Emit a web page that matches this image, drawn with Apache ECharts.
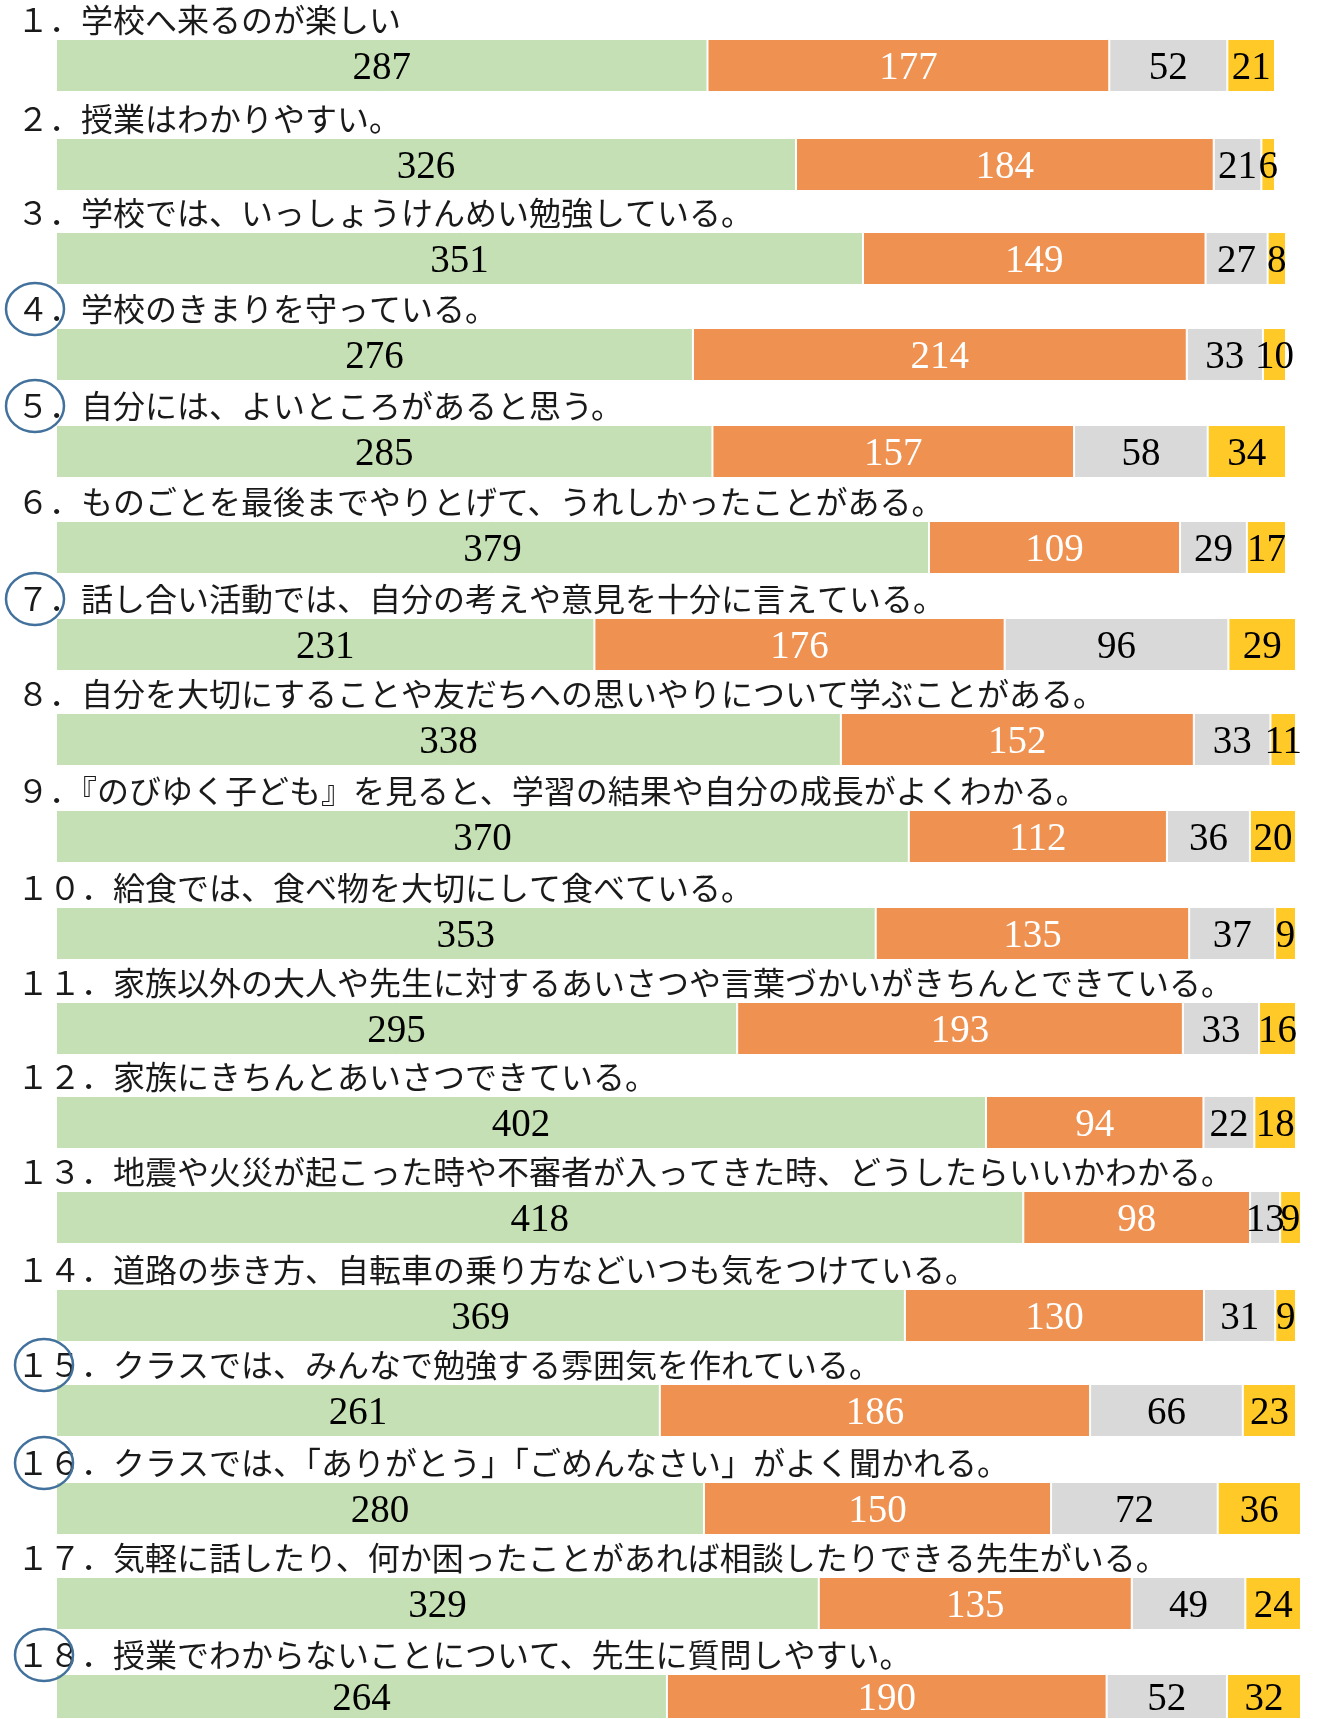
<!DOCTYPE html>
<html>
<head>
<meta charset="utf-8">
<script src="https://cdn.jsdelivr.net/npm/echarts@6/dist/echarts.min.js"></script>
<style>
  html, body { margin: 0; padding: 0; background: #fff; }
  #chart { width: 1320px; height: 1719px; }
</style>
</head>
<body>
<div id="chart"></div>
<script>
const questions = [
  "１．学校へ来るのが楽しい",
  "２．授業はわかりやすい。",
  "３．学校では、いっしょうけんめい勉強している。",
  "４．学校のきまりを守っている。",
  "５．自分には、よいところがあると思う。",
  "６．ものごとを最後までやりとげて、うれしかったことがある。",
  "７．話し合い活動では、自分の考えや意見を十分に言えている。",
  "８．自分を大切にすることや友だちへの思いやりについて学ぶことがある。",
  "９．『のびゆく子ども』を見ると、学習の結果や自分の成長がよくわかる。",
  "１０．給食では、食べ物を大切にして食べている。",
  "１１．家族以外の大人や先生に対するあいさつや言葉づかいがきちんとできている。",
  "１２．家族にきちんとあいさつできている。",
  "１３．地震や火災が起こった時や不審者が入ってきた時、どうしたらいいかわかる。",
  "１４．道路の歩き方、自転車の乗り方などいつも気をつけている。",
  "１５．クラスでは、みんなで勉強する雰囲気を作れている。",
  "１６．クラスでは、「ありがとう」「ごめんなさい」がよく聞かれる。",
  "１７．気軽に話したり、何か困ったことがあれば相談したりできる先生がいる。",
  "１８．授業でわからないことについて、先生に質問しやすい。"
];

const agree          = [287, 326, 351, 276, 285, 379, 231, 338, 370, 353, 295, 402, 418, 369, 261, 280, 329, 264];
const ratherAgree    = [177, 184, 149, 214, 157, 109, 176, 152, 112, 135, 193, 94, 98, 130, 186, 150, 135, 190];
const ratherDisagree = [52, 21, 27, 33, 58, 29, 96, 33, 36, 37, 33, 22, 13, 31, 66, 72, 49, 52];
const disagree       = [21, 6, 8, 10, 34, 17, 29, 11, 20, 9, 16, 18, 9, 9, 23, 36, 24, 32];

const seriesNames = ["そう思う", "どちらかといえばそう思う", "どちらかといえばそう思わない", "そう思わない"];
const seriesData = [agree, ratherAgree, ratherDisagree, disagree];
const colors = ["#C5E0B4", "#EF9150", "#D9D9D9", "#FFCA28"];
const labelColors = ["#000", "#fff", "#000", "#000"];

// questions marked with a blue circle (0-based)
const circled = [3, 4, 6, 14, 15, 17];

// layout of each small bar (each row was its own chart)
const barTops = [39, 138, 232, 328, 425, 521, 618, 713, 810, 907, 1002, 1096, 1191, 1289, 1384, 1482, 1577, 1674];
const barRights = [1275, 1275, 1286, 1286, 1286, 1286, 1296, 1296, 1296, 1296, 1296, 1296, 1301, 1296, 1296, 1301, 1301, 1301];
const barLeft = 56;
const barHeight = 53;

const chart = echarts.init(document.getElementById("chart"));

const grids = [];
const xAxes = [];
const yAxes = [];
const series = [];
const graphics = [];

questions.forEach((q, i) => {
  grids.push({ left: barLeft, top: barTops[i], width: barRights[i] - barLeft, height: barHeight });
  xAxes.push({ type: "value", gridIndex: i, min: 0, max: "dataMax", show: false });
  yAxes.push({ type: "category", gridIndex: i, data: [q], show: false });

  seriesData.forEach((arr, k) => {
    series.push({
      name: seriesNames[k],
      type: "bar",
      xAxisIndex: i,
      yAxisIndex: i,
      stack: "q" + i,
      barWidth: "100%",
      data: [arr[i]],
      itemStyle: { color: colors[k], borderColor: "#fff", borderWidth: 1 },
      label: {
        show: true,
        position: "inside",
        formatter: "{c}",
        color: labelColors[k],
        fontFamily: "Liberation Serif",
        fontSize: 39,
        offset: [0, 3]
      },
      emphasis: { disabled: true },
      silent: true
    });
  });

  // question text above the bar
  graphics.push({
    type: "text",
    x: 17,
    y: barTops[i] - 19,
    style: {
      text: q,
      font: '32px "Noto Sans CJK JP"',
      fill: "#1a1a1a",
      verticalAlign: "middle"
    }
  });
});

circled.forEach((i) => {
  const twoDigit = i >= 9;
  graphics.push({
    type: "ellipse",
    shape: { cx: twoDigit ? 44 : 35, cy: barTops[i] - 19, rx: 29, ry: 26 },
    style: { fill: "none", stroke: "#41719C", lineWidth: 2.5 },
    z: 10
  });
});

chart.setOption({
  animation: false,
  grid: grids,
  xAxis: xAxes,
  yAxis: yAxes,
  series: series,
  graphic: graphics
});

window.addEventListener("resize", () => chart.resize());
</script>
</body>
</html>
